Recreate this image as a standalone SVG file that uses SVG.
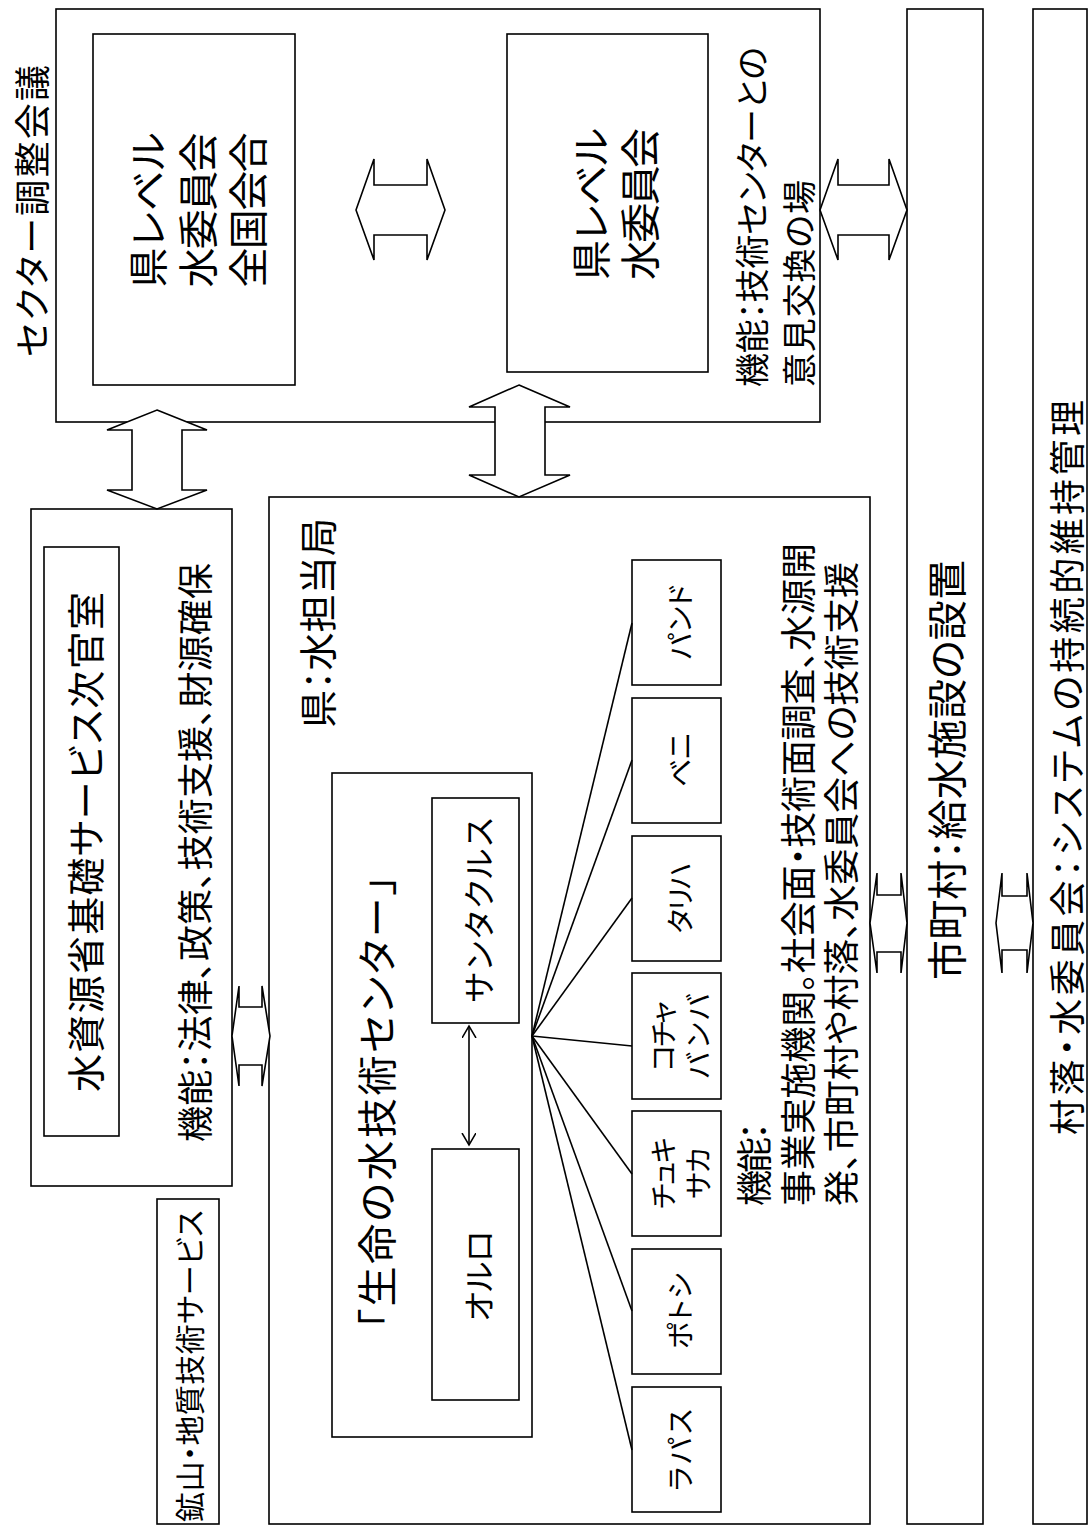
<svg xmlns="http://www.w3.org/2000/svg" width="1088" height="1534" viewBox="0 0 1088 1534">
<style>
.box{fill:#fff;stroke:#000;stroke-width:1.6}
.arr{fill:#fff;stroke:#000;stroke-width:1.6;stroke-linejoin:miter}
.ln{stroke:#000;stroke-width:1.6;fill:none}
text{font-family:"Noto Sans CJK JP","Noto Sans CJK SC",sans-serif;fill:#000;font-feature-settings:"palt";dominant-baseline:central}
</style>
<defs>
<marker id="open" markerWidth="16" markerHeight="16" refX="12" refY="7" orient="auto-start-reverse" markerUnits="userSpaceOnUse"><path d="M0,0 L12,7 L0,14" fill="none" stroke="#000" stroke-width="1.5"/></marker>
</defs>
<rect width="1088" height="1534" fill="#fff"/>

<g id="sector">
<rect class="box" x="56" y="9" width="764" height="413"/>
<text transform="translate(30,211) rotate(-90)" text-anchor="middle" font-size="36" textLength="292" lengthAdjust="spacing">セクター調整会議</text>
<text transform="translate(750,387) rotate(-90)" font-size="34" textLength="340" lengthAdjust="spacing">機能：技術センターとの</text>
<text transform="translate(797,387) rotate(-90)" font-size="34" textLength="207" lengthAdjust="spacing">意見交換の場</text>
</g>
<g id="national">
<rect class="box" x="93" y="34" width="202" height="351"/>
<text transform="translate(146,210) rotate(-90)" text-anchor="middle" font-size="40" textLength="155" lengthAdjust="spacing">県レベル</text>
<text transform="translate(196,210) rotate(-90)" text-anchor="middle" font-size="40" textLength="155" lengthAdjust="spacing">水委員会</text>
<text transform="translate(246,210) rotate(-90)" text-anchor="middle" font-size="40" textLength="155" lengthAdjust="spacing">全国会合</text>
</g>
<g id="dept-committee">
<rect class="box" x="507" y="34" width="201" height="338"/>
<text transform="translate(589,204) rotate(-90)" text-anchor="middle" font-size="40" textLength="152" lengthAdjust="spacing">県レベル</text>
<text transform="translate(638,204) rotate(-90)" text-anchor="middle" font-size="40" textLength="152" lengthAdjust="spacing">水委員会</text>
</g>
<g id="ministry">
<rect class="box" x="31" y="509" width="201" height="677"/>
<rect class="box" x="44" y="547" width="75" height="589"/>
<text transform="translate(83,842) rotate(-90)" text-anchor="middle" font-size="38" textLength="500" lengthAdjust="spacing">水資源省基礎サービス次官室</text>
<text transform="translate(193,1142) rotate(-90)" font-size="36" textLength="579" lengthAdjust="spacing">機能：法律、政策、技術支援、財源確保</text>
</g>
<g id="mining">
<rect class="box" x="157" y="1199" width="62" height="325"/>
<text transform="translate(188,1366) rotate(-90)" text-anchor="middle" font-size="30" textLength="312" lengthAdjust="spacing">鉱山・地質技術サービス</text>
</g>
<g id="prefecture">
<rect class="box" x="269" y="497" width="601" height="1027"/>
<text transform="translate(315,728) rotate(-90)" font-size="38" textLength="210" lengthAdjust="spacing">県：水担当局</text>
<text transform="translate(752,1206) rotate(-90)" font-size="36" textLength="84" lengthAdjust="spacing">機能：</text>
<text transform="translate(796,1206) rotate(-90)" font-size="36" textLength="663" lengthAdjust="spacing">事業実施機関。社会面・技術面調査、水源開</text>
<text transform="translate(839,1206) rotate(-90)" font-size="36" textLength="644" lengthAdjust="spacing">発、市町村や村落、水委員会への技術支援</text>
</g>
<g id="center">
<rect class="box" x="332" y="773" width="200" height="664"/>
<text transform="translate(375,1329) rotate(-90)" font-size="40" textLength="454" lengthAdjust="spacing">「生命の水技術センター」</text>
</g>
<g id="santacruz">
<rect class="box" x="432" y="798" width="87" height="225"/>
<text transform="translate(477,910) rotate(-90)" text-anchor="middle" font-size="32" textLength="185" lengthAdjust="spacing">サンタクルス</text>
</g>
<g id="oruro">
<rect class="box" x="432" y="1149" width="87" height="251"/>
<text transform="translate(477,1276) rotate(-90)" text-anchor="middle" font-size="32" textLength="91" lengthAdjust="spacing">オルロ</text>
</g>
<g id="pando">
<rect class="box" x="632" y="560" width="89" height="125"/>
<text transform="translate(679,622) rotate(-90)" text-anchor="middle" font-size="28" textLength="75" lengthAdjust="spacing">パンド</text>
</g>
<g id="beni">
<rect class="box" x="632" y="698" width="89" height="125"/>
<text transform="translate(679,760) rotate(-90)" text-anchor="middle" font-size="28" textLength="54" lengthAdjust="spacing">ベニ</text>
</g>
<g id="tarija">
<rect class="box" x="632" y="836" width="89" height="125"/>
<text transform="translate(679,898) rotate(-90)" text-anchor="middle" font-size="28" textLength="71" lengthAdjust="spacing">タリハ</text>
</g>
<g id="cochabamba">
<rect class="box" x="632" y="973" width="89" height="126"/>
<text transform="translate(662,1036) rotate(-90)" text-anchor="middle" font-size="28" textLength="70" lengthAdjust="spacing">コチャ</text>
<text transform="translate(697,1036) rotate(-90)" text-anchor="middle" font-size="28" textLength="85" lengthAdjust="spacing">バンバ</text>
</g>
<g id="chuquisaca">
<rect class="box" x="632" y="1111" width="89" height="125"/>
<text transform="translate(662,1173) rotate(-90)" text-anchor="middle" font-size="28" textLength="72" lengthAdjust="spacing">チュキ</text>
<text transform="translate(697,1173) rotate(-90)" text-anchor="middle" font-size="28" textLength="51" lengthAdjust="spacing">サカ</text>
</g>
<g id="potosi">
<rect class="box" x="632" y="1249" width="89" height="125"/>
<text transform="translate(679,1311) rotate(-90)" text-anchor="middle" font-size="28" textLength="76" lengthAdjust="spacing">ポトシ</text>
</g>
<g id="lapaz">
<rect class="box" x="632" y="1387" width="89" height="125"/>
<text transform="translate(679,1450) rotate(-90)" text-anchor="middle" font-size="28" textLength="82" lengthAdjust="spacing">ラパス</text>
</g>
<g id="municipality">
<rect class="box" x="907" y="9" width="76" height="1515"/>
<text transform="translate(945,980) rotate(-90)" font-size="40" textLength="420" lengthAdjust="spacing">市町村：給水施設の設置</text>
</g>
<g id="community">
<rect class="box" x="1033" y="9" width="54" height="1515"/>
<text transform="translate(1065,1135) rotate(-90)" font-size="36" textLength="735" lengthAdjust="spacing">村落・水委員会：システムの持続的維持管理</text>
</g>

<g id="connectors">
<polygon class="arr" points="356,210 374,159 374,185 427,185 427,159 445,210 427,260 427,235 374,235 374,260"/>
<polygon class="arr" points="820,210 838,159 838,185 889,185 889,159 907,210 889,260 889,235 838,235 838,260"/>
<polygon class="arr" points="157,410 207,430 182,430 182,490 207,490 157,509 107,490 132,490 132,430 107,430"/>
<polygon class="arr" points="519,385 570,407 545,407 545,475 570,475 519,497 469,475 495,475 495,407 469,407"/>
<polygon class="arr" points="232,1036 239,986 239,1007 262,1007 262,986 270,1036 262,1086 262,1065 239,1065 239,1086"/>
<polygon class="arr" points="870,923 877,873 877,895 901,895 901,873 907,923 901,973 901,952 877,952 877,973"/>
<polygon class="arr" points="996,923 1002,873 1002,896 1027,896 1027,873 1033,923 1027,973 1027,950 1002,950 1002,973"/>
<line class="ln" x1="469" y1="1026" x2="469" y2="1145" marker-start="url(#open)" marker-end="url(#open)"/>
<g class="ln">
<line x1="532" y1="1036" x2="632" y2="623"/>
<line x1="532" y1="1036" x2="632" y2="760"/>
<line x1="532" y1="1036" x2="632" y2="898"/>
<line x1="532" y1="1036" x2="632" y2="1046"/>
<line x1="532" y1="1036" x2="632" y2="1174"/>
<line x1="532" y1="1036" x2="632" y2="1311"/>
<line x1="532" y1="1036" x2="632" y2="1450"/>
</g>
</g>
</svg>
